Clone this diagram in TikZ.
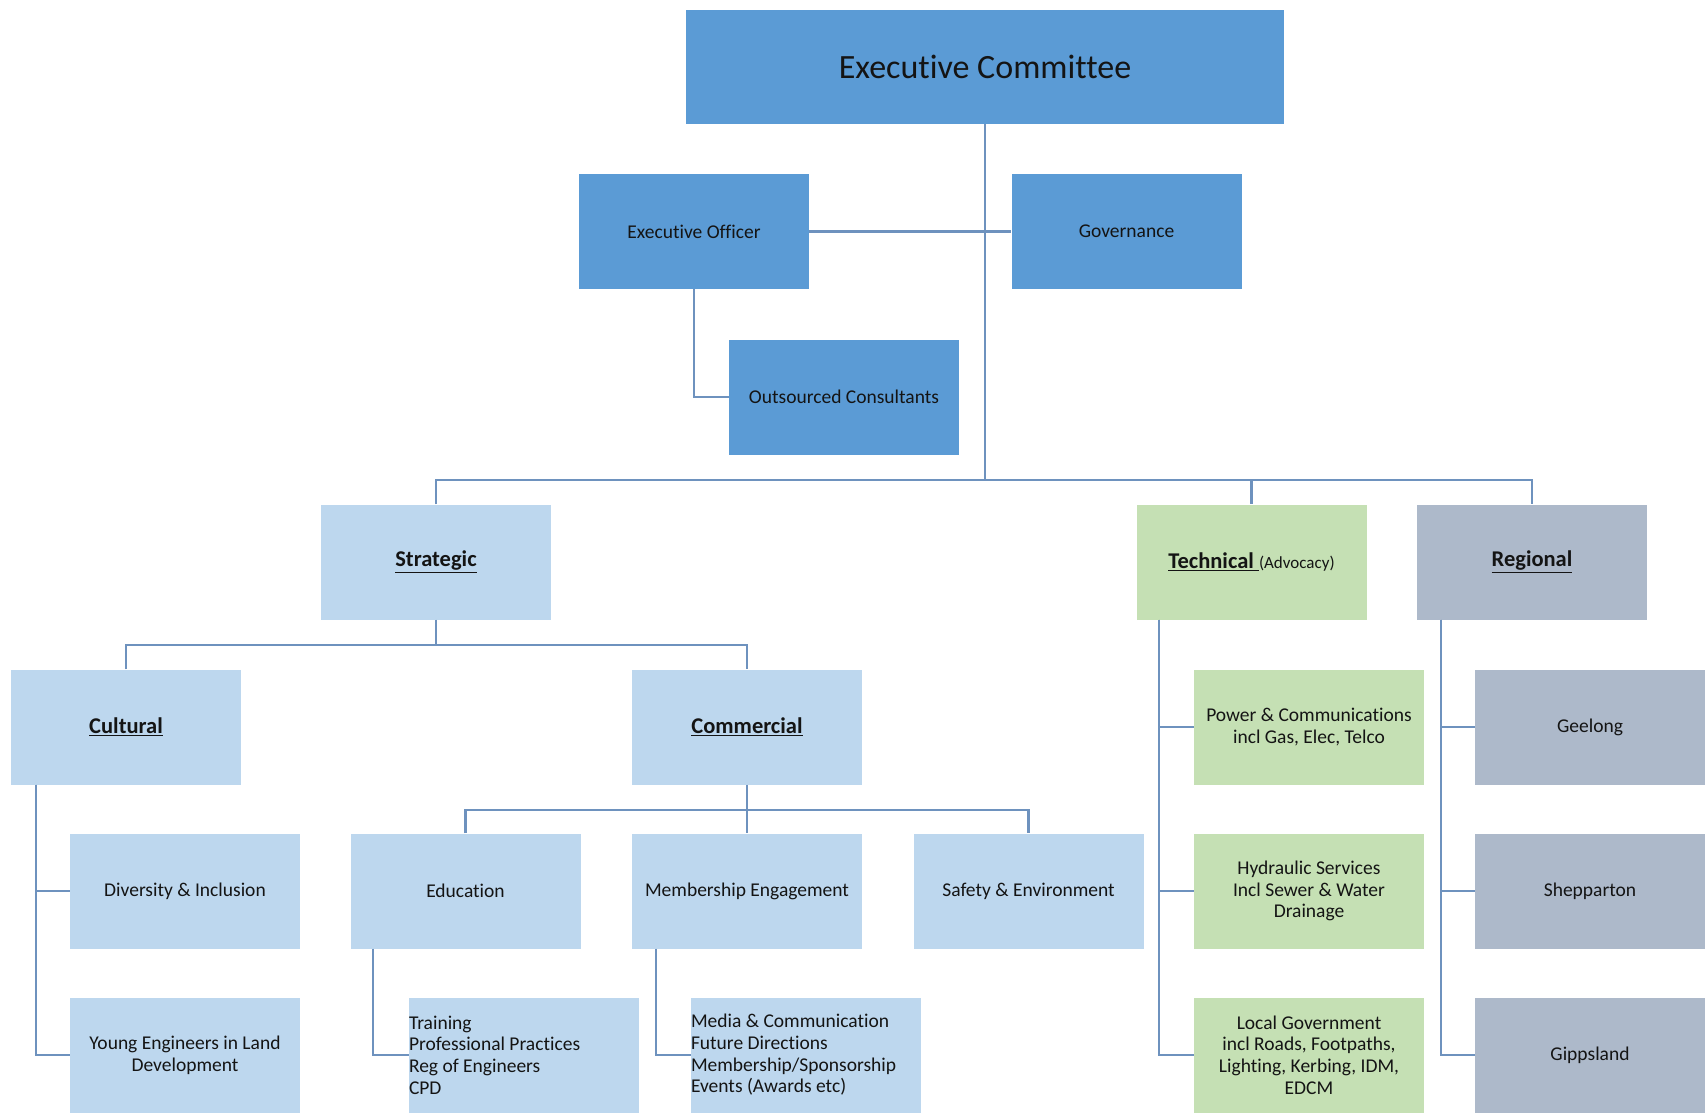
\documentclass[tikz,border=0pt]{standalone}
\usepackage{fontspec}
\setmainfont{Carlito}[Ligatures={NoCommon}]
\definecolor{dkblue}{HTML}{5B9BD5}
\definecolor{ltblue}{HTML}{BDD7EE}
\definecolor{grn}{HTML}{C5E0B4}
\definecolor{gry}{HTML}{ADB9CA}
\definecolor{linec}{HTML}{6E92BE}
\definecolor{txt}{HTML}{141414}
\begin{document}
\begin{tikzpicture}[x=1pt,y=-1pt,
  box/.style={minimum width=230pt, minimum height=115pt, inner sep=0pt, align=center,
    font=\fontsize{19.5}{21.7}\selectfont, text=txt},
  dk/.style={box, fill=dkblue},
  lt/.style={box, fill=ltblue},
  gr/.style={box, fill=grn},
  gy/.style={box, fill=gry},
  head/.style={font=\fontsize{22.5}{26}\selectfont\bfseries},
  listbox/.style={text width=230pt, align=flush left},
  con/.style={draw=linec, line width=2.2pt}]
\useasboundingbox[fill=white] (0,0) rectangle (1705,1115);

% top
\node[dk, minimum width=598pt, minimum height=114pt, font=\fontsize{34}{40}\selectfont] (ec) at (985,67) {Executive Committee};
\node[dk] (eo) at (694,231.5) {Executive Officer};
\node[dk] (gov) at (1126.5,231.5) {Governance};
\node[dk] (oc) at (844,397) {Outsourced Consultants};

% level 2
\node[lt, head] (strat) at (436,562) {\underline{Strategic}};
\node[gr] (tech) at (1251.5,562) {{\fontsize{22.5}{26}\selectfont\bfseries\underline{Technical\ }}{\fontsize{17}{20}\selectfont(Advocacy)}};
\node[gy, head] (reg) at (1532,562) {\underline{Regional}};

% level 3
\node[lt, head] (cult) at (126,727) {\underline{Cultural}};
\node[lt, head] (comm) at (747,727) {\underline{Commercial}};
\node[gr] (pow) at (1309,727) {Power \& Communications\\incl Gas, Elec, Telco};
\node[gy] (gee) at (1590,727) {Geelong};

% level 4
\node[lt] (div) at (185,891) {Diversity \& Inclusion};
\node[lt] (edu) at (465.5,891) {Education};
\node[lt] (me) at (747,891) {Membership Engagement};
\node[lt] (safe) at (1028.5,891) {Safety \& Environment};
\node[gr] (hyd) at (1309,891) {Hydraulic Services\\Incl Sewer \& Water\\Drainage};
\node[gy] (shep) at (1590,891) {Shepparton};

% level 5
\node[lt] (young) at (185,1055) {Young Engineers in Land\\Development};
\node[lt, listbox] (train) at (524,1055) {Training\\Professional Practices\\Reg of Engineers\\CPD};
\node[lt, listbox] (media) at (806,1055) {Media \& Communication\\Future Directions\\Membership/Sponsorship\\Events (Awards etc)};
\node[gr] (loc) at (1309,1055) {Local Government\\incl Roads, Footpaths,\\Lighting, Kerbing, IDM,\\EDCM};
\node[gy] (gip) at (1590,1055) {Gippsland};

% bus coordinates
\coordinate (bus) at (985,480);
\coordinate (sbus) at (436,645);
\coordinate (cbus) at (747,810);

% connectors
\draw[con] (ec.south) -- (bus);
\draw[con] (eo.east) -- (gov.west);
\draw[con] (eo.south) |- (oc.west);
\draw[con] (strat.north) |- (bus) -| (reg.north);
\draw[con] (bus) -| (tech.north);

\draw[con] (strat.south) -- (sbus);
\draw[con] (cult.north) |- (sbus) -| (comm.north);

\draw[con] (comm.south) -- (cbus);
\draw[con] (edu.north) |- (cbus) -| (safe.north);
\draw[con] (cbus) -- (me.north);

\draw[con] ([xshift=25pt]cult.south west) |- (div.west);
\draw[con] ([xshift=25pt]cult.south west) |- (young.west);
\draw[con] ([xshift=23pt]edu.south west) |- (train.west);
\draw[con] ([xshift=24pt]me.south west) |- (media.west);
\draw[con] ([xshift=23pt]tech.south west) |- (pow.west);
\draw[con] ([xshift=23pt]tech.south west) |- (hyd.west);
\draw[con] ([xshift=23pt]tech.south west) |- (loc.west);
\draw[con] ([xshift=24pt]reg.south west) |- (gee.west);
\draw[con] ([xshift=24pt]reg.south west) |- (shep.west);
\draw[con] ([xshift=24pt]reg.south west) |- (gip.west);
\end{tikzpicture}
\end{document}
